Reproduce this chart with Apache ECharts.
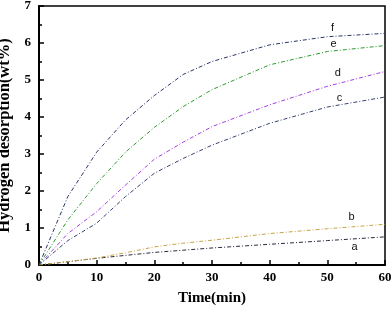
<!DOCTYPE html>
<html><head><meta charset="utf-8">
<script src="https://cdn.jsdelivr.net/npm/echarts@6/dist/echarts.min.js"></script>
<style>html,body{margin:0;padding:0;background:#fff}#c{width:392px;height:310px}</style>
</head><body><div id="c"></div>
<script>
var time = [0,5,10,15,20,25,30,40,50,60];
var seriesA = [0,0.09,0.18,0.26,0.34,0.40,0.46,0.56,0.66,0.76];
var seriesB = [0,0.09,0.19,0.33,0.49,0.59,0.67,0.85,0.98,1.10];
var seriesC = [0,0.66,1.13,1.85,2.48,2.88,3.24,3.83,4.27,4.54];
var seriesD = [0,0.85,1.44,2.16,2.86,3.32,3.74,4.33,4.83,5.23];
var seriesE = [0,1.22,2.20,3.05,3.72,4.28,4.74,5.41,5.77,5.93];
var seriesF = [0,1.85,3.05,3.92,4.58,5.15,5.50,5.95,6.17,6.26];
var names = ['a','b','c','d','e','f'];
var labelPos = [[54.7,0.49],[54.2,1.30],[52.1,4.51],[51.8,5.19],[51.1,5.97],[50.9,6.40]];
var colors = ['#2b2b3b','#c8a248','#34416e','#a33fe0','#2f9a2f','#2a3566'];
var all = [seriesA,seriesB,seriesC,seriesD,seriesE,seriesF];

var serif = 'Liberation Serif';
var series = all.map(function(vals,i){
  return {
    type:'line', name:names[i], symbol:'none', smooth:false,
    data: time.map(function(t,j){return [t, vals[j]];}),
    lineStyle:{color:colors[i], width:1, type:[4,2,1,2]},
    z: 3,
    markPoint:{
      symbol:'circle', symbolSize:0, silent:true,
      data:[{coord:labelPos[i], label:{show:true, formatter:names[i], position:'inside', color:'#111', fontFamily:'Liberation Sans', fontSize:11}}]
    }
  };
});

var chart = echarts.init(document.getElementById('c'), null, {renderer:'canvas'});
chart.setOption({
  animation:false,
  backgroundColor:'#fff',
  grid:{left:39, right:7, top:6, bottom:45, outerBoundsMode:'none', containLabel:false, show:true, borderColor:'#000', borderWidth:1.5},
  xAxis:{
    type:'value', min:0, max:60, interval:10,
    name:'Time(min)', nameLocation:'middle', nameGap:26,
    nameTextStyle:{fontFamily:serif, fontWeight:'bold', fontSize:15, color:'#000'},
    axisLine:{show:true, lineStyle:{color:'#000', width:2}},
    axisTick:{show:true, inside:true, length:5, lineStyle:{color:'#000', width:1.5}},
    minorTick:{show:true, splitNumber:2, length:3, lineStyle:{color:'#000', width:1.5}},
    splitLine:{show:false},
    axisLabel:{fontFamily:serif, fontWeight:'bold', fontSize:13, color:'#000', margin:6}
  },
  yAxis:{
    type:'value', min:0, max:7, interval:1,
    name:'Hydrogen desorption(wt%)', nameLocation:'middle', nameGap:24,
    nameTextStyle:{fontFamily:serif, fontWeight:'bold', fontSize:16.5, color:'#000'},
    axisLine:{show:true, lineStyle:{color:'#000', width:2}},
    axisTick:{show:true, inside:true, length:5, lineStyle:{color:'#000', width:1.5}},
    minorTick:{show:true, splitNumber:2, length:3, lineStyle:{color:'#000', width:1.5}},
    splitLine:{show:false},
    axisLabel:{fontFamily:serif, fontWeight:'bold', fontSize:13, color:'#000', margin:8}
  },
  series: series
});
</script></body></html>
